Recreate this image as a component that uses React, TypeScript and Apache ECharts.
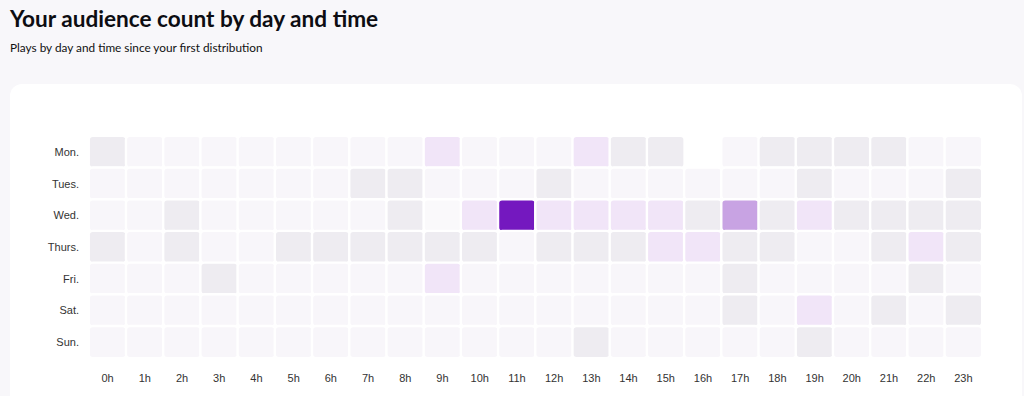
import React, { useEffect, useRef } from "react";
import * as echarts from "echarts";

const hours = ["0h","1h","2h","3h","4h","5h","6h","7h","8h","9h","10h","11h","12h","13h","14h","15h","16h","17h","18h","19h","20h","21h","22h","23h"];
const days = ["Mon.", "Tues.", "Wed.", "Thurs.", "Fri.", "Sat.", "Sun."];

const mon = [2,1,1,1,1,1,1,1,1,3,1,1,1,3,2,2,null,1,2,2,2,2,1,1];
const tues = [1,1,1,1,1,1,1,2,2,1,1,1,2,1,1,1,1,1,1,2,1,1,1,2];
const wed = [1,1,2,1,1,1,1,1,2,0,3,12,3,3,3,3,2,6,2,3,2,2,2,2];
const thurs = [2,1,2,1,1,2,2,2,2,2,2,1,2,2,2,3,3,2,2,1,1,2,3,2];
const fri = [1,1,1,2,1,1,1,1,1,3,1,1,1,1,1,1,1,2,1,1,1,1,2,1];
const sat = [1,1,1,1,1,1,1,1,1,1,1,1,1,1,1,1,1,2,1,3,1,2,1,2];
const sun = [1,1,1,1,1,1,1,1,1,1,1,1,1,2,1,1,1,1,1,2,1,1,1,1];

const plays = [mon, tues, wed, thurs, fri, sat, sun];

export default function App() {
  const ref = useRef<HTMLDivElement>(null);
  useEffect(() => {
    document.body.style.margin = "0";
    if (!ref.current) return;
    const chart = echarts.init(ref.current, null, { renderer: "svg" });
    const data: any[] = [];
    plays.forEach((row, d) => {
      row.forEach((v, h) => {
        if (v !== null) data.push([h, d, v]);
      });
    });
    chart.setOption({
      animation: false,
      backgroundColor: "#f8f7fa",
      title: [
        {
          text: "Your audience count by day and time",
          left: 5,
          top: 2,
          textStyle: { fontFamily: "Lato", fontSize: 22.6, fontWeight: "bold", color: "#0d0d12" },
        },
        {
          text: "Plays by day and time since your first distribution",
          left: 5,
          top: 36,
          textStyle: { fontFamily: "Lato", fontSize: 11.8, fontWeight: "normal", color: "#111" },
        },
      ],
      graphic: [
        {
          type: "rect",
          z: -10,
          shape: { x: 10, y: 84, width: 1012, height: 400, r: 12 },
          style: { fill: "#ffffff" },
        },
      ],
      grid: { left: 89, right: 42, top: 136, bottom: 38 },
      xAxis: {
        type: "category",
        data: hours,
        axisLine: { show: false },
        axisTick: { show: false },
        splitLine: { show: false },
        axisLabel: { color: "#333", fontSize: 11, fontFamily: "Liberation Sans", margin: 14 },
      },
      yAxis: {
        type: "category",
        data: days,
        inverse: true,
        axisLine: { show: false },
        axisTick: { show: false },
        splitLine: { show: false },
        axisLabel: { color: "#333", fontSize: 11, fontFamily: "Liberation Sans", margin: 10 },
      },
      visualMap: {
        show: false,
        type: "piecewise",
        dimension: 2,
        pieces: [
          { min: 0, max: 0, color: "#faf9fb" },
          { min: 1, max: 1, color: "#f8f6fa" },
          { min: 2, max: 2, color: "#eeecf1" },
          { min: 3, max: 4, color: "#f1e5f8" },
          { min: 5, max: 9, color: "#c8a3e3" },
          { min: 10, color: "#7418bf" },
        ],
      },
      series: [
        {
          type: "heatmap",
          data,
          itemStyle: { borderColor: "#ffffff", borderWidth: 2.4, borderRadius: 4 },
          emphasis: { disabled: true },
        },
      ],
    });
    return () => chart.dispose();
  }, []);
  return <div ref={ref} style={{ width: 1024, height: 396 }} />;
}
